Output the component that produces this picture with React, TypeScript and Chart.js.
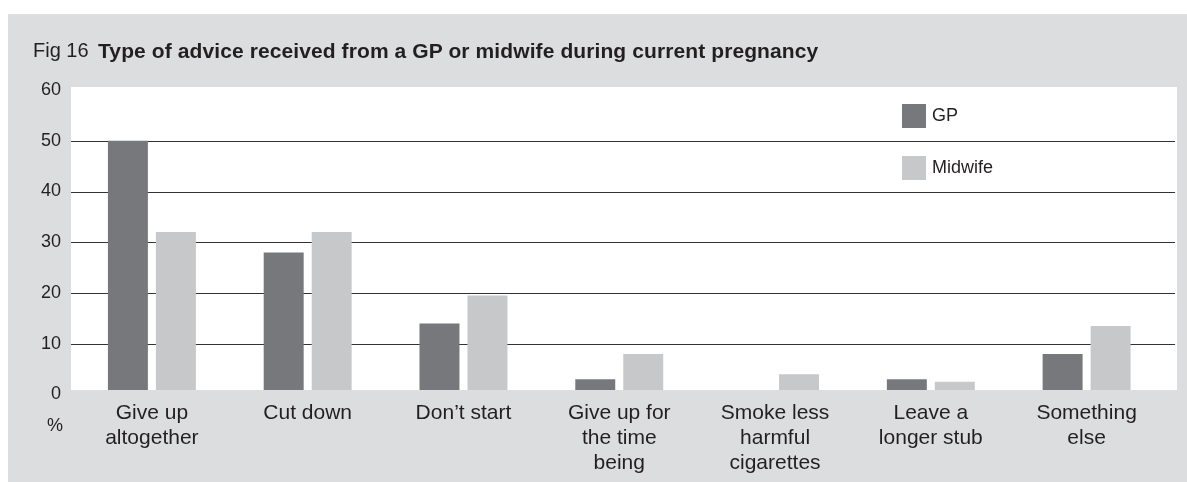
import React, { useEffect, useRef } from "react";
import { Chart, registerables } from "chart.js";

Chart.register(...registerables);

// ---- data ----
const categories: string[][] = [
  ["Give up", "altogether"],
  ["Cut down"],
  ["Don\u2019t start"],
  ["Give up for", "the time", "being"],
  ["Smoke less", "harmful", "cigarettes"],
  ["Leave a", "longer stub"],
  ["Something", "else"],
];
const gpValues: number[] = [50, 28, 14, 3, 0, 3, 8];
const midwifeValues: number[] = [32, 32, 19.5, 8, 4, 2.5, 13.5];
const seriesNames: string[] = ["GP", "Midwife"];
const gridValues: number[] = [10, 20, 30, 40, 50];
const titlePrefix = "Fig 16";
const titleText = "Type of advice received from a GP or midwife during current pregnancy";
const unitLabel = "%";

// ---- style ----
const FONT = "'Liberation Sans', Arial, Helvetica, sans-serif";
const PANEL = "#dcdddf";
const INK = "#231f20";
const GP_COLOR = "#77787b";
const MW_COLOR = "#c7c8ca";

const panelPlugin = {
  id: "panelPlugin",
  beforeDraw(chart: any) {
    const { ctx, chartArea } = chart;
    const y = chart.scales.y;
    const left = chartArea.left - 3;
    const right = chartArea.right + 12.5;
    const top = y.getPixelForValue(60) - 3;
    const bottom = y.getPixelForValue(0) - 4.5;
    ctx.save();
    ctx.fillStyle = "#ffffff";
    ctx.fillRect(left, top, right - left, bottom - top);
    ctx.strokeStyle = "#333333";
    ctx.lineWidth = 1.2;
    for (const v of gridValues) {
      const py = Math.round(y.getPixelForValue(v)) + 0.5;
      ctx.beginPath();
      ctx.moveTo(left, py);
      ctx.lineTo(right - 2, py);
      ctx.stroke();
    }
    ctx.restore();
  },
  afterDatasetsDraw(chart: any) {
    const { ctx, chartArea } = chart;
    const y = chart.scales.y;
    const zero = y.getPixelForValue(0);
    ctx.save();
    ctx.fillStyle = PANEL;
    ctx.fillRect(chartArea.left - 4, zero - 4.5, chartArea.right - chartArea.left + 20, 6);
    ctx.restore();
  },
  afterDraw(chart: any) {
    const { ctx, chartArea } = chart;
    const datasets = chart.data.datasets;
    ctx.save();
    ctx.font = `18px ${FONT}`;
    ctx.textBaseline = "middle";
    ctx.textAlign = "left";
    datasets.forEach((ds: any, i: number) => {
      const sx = chartArea.left + 828;
      const sy = chartArea.top + 14 + i * 52;
      ctx.fillStyle = ds.backgroundColor;
      ctx.fillRect(sx, sy, 24, 24);
      ctx.fillStyle = INK;
      ctx.fillText(ds.label, sx + 30, sy + 12);
    });
    ctx.restore();
  },
};

export default function App() {
  const canvasRef = useRef<HTMLCanvasElement | null>(null);

  useEffect(() => {
    const canvas = canvasRef.current;
    if (!canvas) return;
    const chart = new Chart(canvas, {
      type: "bar",
      data: {
        labels: categories,
        datasets: [
          {
            label: seriesNames[0],
            data: gpValues,
            backgroundColor: GP_COLOR,
            borderWidth: 0,
            barPercentage: 0.833,
            categoryPercentage: 0.616,
          },
          {
            label: seriesNames[1],
            data: midwifeValues,
            backgroundColor: MW_COLOR,
            borderWidth: 0,
            barPercentage: 0.833,
            categoryPercentage: 0.616,
          },
        ],
      },
      options: {
        responsive: false,
        animation: false,
        devicePixelRatio: 1,
        layout: { padding: { left: 0, right: 22.5, top: 90, bottom: 0 } },
        plugins: {
          legend: { display: false },
          title: { display: false },
          tooltip: { enabled: false },
        },
        scales: {
          x: {
            grid: { display: false, drawTicks: false },
            border: { display: false },
            ticks: {
              color: INK,
              font: { family: FONT, size: 21, lineHeight: 25 / 21 },
              padding: 6.5,
              maxRotation: 0,
              minRotation: 0,
              autoSkip: false,
            },
            afterFit(scale: any) {
              scale.height = 87.5;
            },
          },
          y: {
            min: 0,
            max: 60,
            grid: { display: false, drawTicks: false },
            border: { display: false },
            ticks: {
              stepSize: 10,
              color: INK,
              font: { family: FONT, size: 18 },
              padding: 13,
            },
            afterFit(scale: any) {
              scale.width = 74;
            },
          },
        },
      },
      plugins: [panelPlugin],
    } as any);
    return () => chart.destroy();
  }, []);

  return (
    <div>
      <div
        style={{
          position: "fixed",
          left: 8,
          top: 14,
          right: 0,
          bottom: 0,
          background: PANEL,
          zIndex: 0,
        }}
      />
      <canvas
        ref={canvasRef}
        width={1187}
        height={482}
        style={{ position: "fixed", left: 0, top: 0, width: 1187, height: 482, display: "block", zIndex: 1 }}
      />
      <div
        style={{
          position: "fixed",
          left: 33,
          top: 40,
          fontFamily: FONT,
          fontSize: 20,
          lineHeight: "20px",
          color: INK,
          whiteSpace: "nowrap",
          zIndex: 2,
        }}
      >
        {titlePrefix}
      </div>
      <div
        style={{
          position: "fixed",
          left: 98,
          top: 39.5,
          fontFamily: FONT,
          fontSize: 21,
          lineHeight: "21px",
          fontWeight: "bold",
          letterSpacing: "0.1px",
          color: INK,
          whiteSpace: "nowrap",
          zIndex: 2,
        }}
      >
        {titleText}
      </div>
      <div
        style={{
          position: "fixed",
          left: 47,
          top: 416,
          fontFamily: FONT,
          fontSize: 18,
          lineHeight: "18px",
          color: INK,
          zIndex: 2,
        }}
      >
        {unitLabel}
      </div>
    </div>
  );
}
